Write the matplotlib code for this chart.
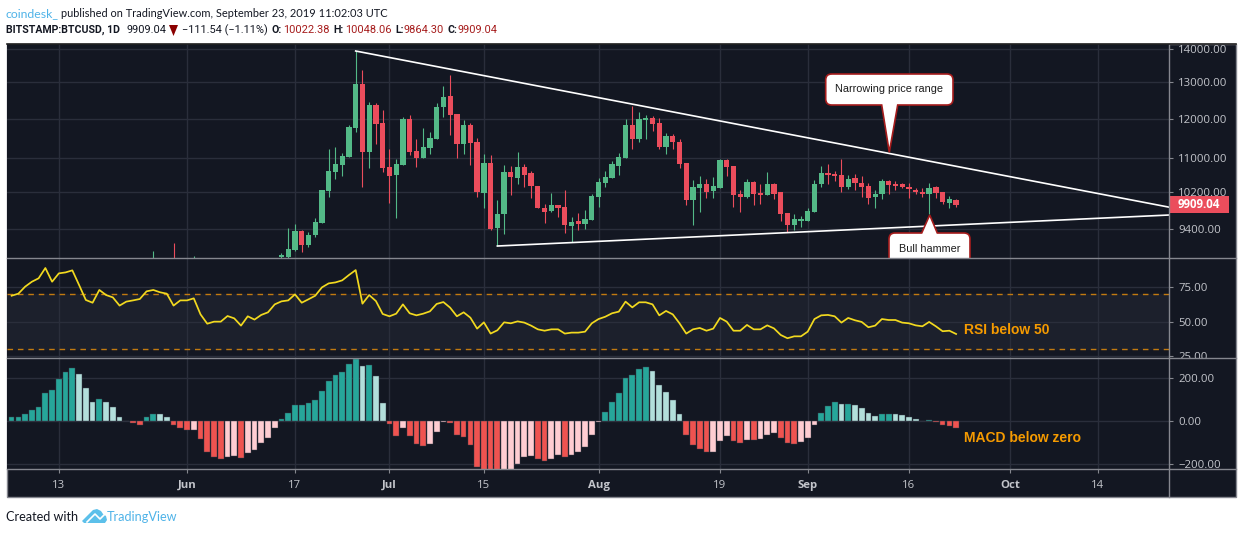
import matplotlib
matplotlib.use('Agg')
import matplotlib.pyplot as plt
import matplotlib.dates as mdates
import pandas as pd
from matplotlib.lines import Line2D
from matplotlib.patches import PathPatch, Polygon, Rectangle
from matplotlib.path import Path
from matplotlib.transforms import Affine2D, Bbox

W, H = 1242, 534

# daily candles, 15 Jun - 23 Sep 2019
candle_dates = pd.date_range('2019-06-15', '2019-09-23')
opens = [8830, 8845, 8975, 9355, 9070, 9270, 9530, 10220, 10660, 10830,
         11025, 11745, 12955, 11150, 12380, 11875, 10775, 10595, 10830, 11990,
         11165, 11000, 11245, 11480, 12315, 12610, 12125, 11345, 11835, 11390,
         10190, 10870, 9415, 9720, 10660, 10525, 10775, 10635, 10340, 9855,
         9775, 9905, 9865, 9465, 9565, 9505, 9585, 10085, 10400, 10515,
         10800, 10995, 11835, 11465, 11965, 12010, 11875, 11265, 11550, 11395,
         10870, 10020, 10285, 10385, 10220, 10300, 10950, 10810, 10160, 10100,
         10425, 10180, 10135, 10385, 10195, 9735, 9480, 9570, 9575, 9755,
         10385, 10635, 10625, 10590, 10310, 10515, 10400, 10335, 10085, 10160,
         10450, 10380, 10380, 10325, 10255, 10205, 10160, 10310, 10195, 9965,
         10022.38]
closes = [8870, 8990, 9355, 9075, 9285, 9540, 10240, 10680, 10850, 11040,
          11775, 12955, 11150, 12380, 11860, 10760, 10570, 10850, 11990, 11150,
          11000, 11265, 11490, 12305, 12580, 12100, 11345, 11825, 11370, 10205,
          10870, 9410, 9710, 10660, 10540, 10775, 10595, 10340, 9840, 9765,
          9905, 9840, 9485, 9540, 9500, 9605, 10115, 10425, 10540, 10850,
          11020, 11835, 11480, 11990, 12010, 11860, 11265, 11550, 11395, 10850,
          10020, 10310, 10385, 10195, 10340, 10950, 10775, 10135, 10100, 10425,
          10150, 10130, 10385, 10150, 9710, 9480, 9605, 9605, 9775, 10395,
          10635, 10595, 10565, 10310, 10495, 10400, 10310, 10075, 10165, 10450,
          10365, 10340, 10310, 10270, 10195, 10160, 10295, 10180, 9975, 10040,
          9909.04]
highs = [8920, 9415, 9500, 9370, 9335, 9625, 10250, 11215, 11265, 11115,
         11825, 13930, 13375, 12450, 12435, 12235, 11215, 10970, 12035, 12090,
         11465, 11745, 11645, 12415, 12900, 13215, 12125, 11965, 11875, 11490,
         11090, 11065, 10020, 10825, 10810, 11140, 10850, 10695, 10350, 9935,
         10190, 9915, 10250, 9650, 9735, 9805, 10150, 10515, 10690, 10935,
         11115, 11985, 12340, 12180, 12090, 12070, 12010, 11620, 11590, 11465,
         10870, 10480, 10570, 10495, 10550, 10970, 10970, 10815, 10250, 10495,
         10465, 10385, 10665, 10415, 10210, 9740, 9710, 9685, 9840, 10480,
         10810, 10855, 10695, 10970, 10595, 10610, 10565, 10400, 10250, 10495,
         10480, 10465, 10415, 10400, 10285, 10285, 10400, 10335, 10210, 10115,
         10048.06]
lows = [8750, 8780, 8960, 8930, 9040, 9230, 9520, 10100, 10500, 10570,
        11020, 11660, 10310, 10750, 11345, 10665, 9965, 9625, 10830, 11075,
        10775, 11000, 11100, 11480, 12055, 11575, 10995, 11100, 10830, 10100,
        9855, 9370, 9055, 9290, 10135, 10385, 10325, 10070, 9840, 9535,
        9750, 9660, 9315, 9135, 9370, 9395, 9585, 9880, 10325, 10515,
        10595, 10995, 11220, 11405, 11475, 11680, 11230, 11100, 11215, 10755,
        9915, 9480, 9750, 10075, 10075, 10300, 10570, 9865, 9770, 10060,
        9915, 9930, 10135, 10040, 9570, 9335, 9370, 9450, 9565, 9755,
        10325, 10385, 10450, 10210, 10270, 10250, 10085, 9930, 9855, 10040,
        10165, 10250, 10285, 10075, 10160, 10100, 9710, 10060, 9935, 9855,
        9864.30]

# older candles only poke their wick into the visible range
wick_dates = pd.to_datetime(['2019-05-27', '2019-05-30', '2019-06-02'])
wick_highs = [8952, 9109, 8856]
wick_up = [True, False, True]

# indicators, 6 May - 23 Sep 2019
ind_dates = pd.date_range('2019-05-06', '2019-09-23')
rsi = [68.9, 70.4, 75.5, 79.1, 81.6, 89.1, 79.1, 85.2, 85.9, 87.4,
       76.7, 65.8, 63.8, 73.1, 69.4, 67.7, 61.7, 64.6, 65.5, 66.5,
       72.1, 73.1, 71.4, 70.4, 61.7, 65.5, 65.5, 67.0, 55.3, 48.5,
       50.0, 50.0, 54.1, 52.4, 47.1, 53.9, 51.5, 54.9, 56.8, 62.6,
       64.8, 65.5, 69.9, 63.8, 66.3, 68.9, 75.0, 77.9, 78.6, 80.1,
       84.0, 87.6, 63.1, 69.4, 65.0, 55.6, 53.9, 55.8, 62.6, 56.1,
       54.6, 55.8, 57.5, 62.9, 64.3, 60.2, 53.9, 56.8, 52.9, 44.9,
       49.5, 41.3, 43.7, 49.5, 48.8, 50.2, 49.3, 47.1, 44.4, 43.4,
       44.4, 44.4, 41.3, 42.0, 42.0, 42.7, 48.8, 51.9, 53.6, 56.1,
       57.3, 64.6, 60.4, 64.1, 64.1, 62.6, 54.6, 57.8, 55.3, 48.8,
       41.3, 44.4, 45.4, 43.4, 44.9, 52.7, 50.0, 43.4, 43.4, 47.6,
       44.4, 44.4, 47.3, 45.1, 40.3, 37.9, 39.3, 39.3, 42.7, 51.9,
       54.6, 54.9, 53.9, 49.3, 52.7, 51.0, 49.8, 45.9, 47.1, 51.9,
       51.2, 51.2, 49.3, 48.8, 47.3, 46.6, 49.8, 46.6, 43.0, 43.4,
       41.0]
macd_hist = [18, 21, 31, 49, 65, 129, 143, 194, 226, 245,
             217, 152, 88, 100, 88, 65, 18, 0, -9, -18,
             18, 33, 32, 21, -18, -32, -42, -41, -83, -143,
             -165, -174, -165, -162, -171, -148, -134, -102, -78, -32,
             9, 37, 74, 75, 83, 97, 138, 185, 212, 226,
             263, 288, 254, 258, 208, 83, -14, -69, -32, -69,
             -106, -115, -106, -51, -3, -9, -65, -74, -111, -212,
             -225, -232, -240, -232, -225, -200, -166, -162, -175, -185,
             -175, -157, -166, -157, -143, -120, -65, -5, 42, 88,
             129, 198, 212, 240, 249, 231, 166, 134, 97, 32,
             -65, -111, -129, -144, -142, -92, -69, -92, -102, -87,
             -89, -83, -65, -55, -78, -102, -106, -97, -78, -18,
             37, 69, 88, 78, 79, 74, 60, 37, 23, 32,
             33, 32, 28, 20, 9, 1, 3, -5, -18, -23,
             -32]

price_ticks = [9400, 10200, 11000, 12000, 13000, 14000]
price_labels = ['9400.00', '10200.00', '11000.00', '12000.00', '13000.00', '14000.00']
rsi_ticks = [25, 50, 75]
rsi_labels = ['25.00', '50.00', '75.00']
macd_ticks = [-200, 0, 200]
macd_labels = ['\u2212200.00', '0.00', '200.00']
date_ticks = pd.to_datetime(['2019-05-13', '2019-06-01', '2019-06-17', '2019-07-01', '2019-07-15',
                             '2019-08-01', '2019-08-19', '2019-09-01', '2019-09-16', '2019-10-01',
                             '2019-10-14'])
date_labels = ['13', 'Jun', '17', 'Jul', '15', 'Aug', '19', 'Sep', '16', 'Oct', '14']

# trend lines: (date, price) at both ends
upper_line_dates = ['2019-06-26 00:00', '2019-10-24 14:00']
upper_line_prices = [13938, 9865]
lower_line_dates = ['2019-07-17 00:00', '2019-10-24 14:00']
lower_line_prices = [9053, 9696]

BG = '#131722'
GRID = '#2a2e3b'
EDGE = '#85878f'
TICKTXT = '#c3c5cb'
UP = '#53b987'
DOWN = '#eb4d5c'
FONT = 'Open Sans'
HEAD = 'Lato'
QUOTE = 'Roboto'

fig = plt.figure(figsize=(W / 100, H / 100), dpi=100, facecolor='white')
px = Affine2D().scale(1 / W, -1 / H).translate(0, 1) + fig.transFigure


def panel(top, bottom):
    left, right = 6.7, 1169.3
    ax = fig.add_axes([left / W, 1 - bottom / H, (right - left) / W, (bottom - top) / H])
    ax.set_facecolor(BG)
    for s in ax.spines.values():
        s.set_visible(False)
    ax.set_xlim(base - 26.73, base + 145.6)
    ax.xaxis_date()
    ax.set_xticks(mdates.date2num(date_ticks))
    ax.grid(True, color=GRID, lw=1.0)
    ax.set_axisbelow(True)
    ax.yaxis.tick_right()
    ax.tick_params(axis='y', length=3, width=0.8, color=EDGE, pad=3.4, labelsize=8.2, labelcolor=TICKTXT)
    ax.tick_params(axis='x', length=0, labelbottom=False)
    return ax


def set_yticks(ax, ticks, labels):
    ax.set_yticks(ticks)
    ax.set_yticklabels(labels, fontfamily=FONT)
    ax.minorticks_off()


def callout(ax, left, top, right, bottom, tip, base0, base1, r=6):
    # rounded box with a pointed tail on its bottom or top edge, in pixels
    tail_down = tip[1] > bottom
    v = [(left + r, top)]
    c = [Path.MOVETO]
    if not tail_down:
        v += [(base0, top), tip, (base1, top)]
        c += [Path.LINETO] * 3
    v += [(right - r, top), (right, top), (right, top + r), (right, bottom - r), (right, bottom), (right - r, bottom)]
    c += [Path.LINETO, Path.CURVE3, Path.CURVE3, Path.LINETO, Path.CURVE3, Path.CURVE3]
    if tail_down:
        v += [(base1, bottom), tip, (base0, bottom)]
        c += [Path.LINETO] * 3
    v += [(left + r, bottom), (left, bottom), (left, bottom - r), (left, top + r), (left, top), (left + r, top)]
    c += [Path.LINETO, Path.CURVE3, Path.CURVE3, Path.LINETO, Path.CURVE3, Path.CURVE3]
    ax.add_patch(PathPatch(Path(v, c), fc='white', ec='#a51c1c', lw=1.2, transform=px, zorder=6))


def label(x, y, s, **kw):
    kw.setdefault('va', 'center')
    kw.setdefault('ha', 'left')
    fig.text(x / W, 1 - y / H, s, **kw)


base = mdates.date2num(pd.Timestamp('2019-06-01'))

# chart frame
fig.add_artist(Rectangle((6.7, 43.5), 1229, 453.5, transform=px, fc=BG, ec=EDGE, lw=1.0, zorder=-1))

ax_p = panel(44, 258)
ax_r = panel(258, 358)
ax_m = panel(358, 469)

# price
ax_p.set_yscale('log')
ax_p.set_ylim(8816, 14156)
set_yticks(ax_p, price_ticks, price_labels)
ax_p.vlines(wick_dates, 8700, wick_highs, colors=[UP if u else DOWN for u in wick_up], lw=0.8)
colors = [UP if c >= o else DOWN for o, c in zip(opens, closes)]
ax_p.vlines(candle_dates, lows, highs, colors=colors, lw=0.8, zorder=3)
ax_p.bar(candle_dates, [abs(c - o) for o, c in zip(opens, closes)],
         bottom=[min(o, c) for o, c in zip(opens, closes)], width=0.78, color=colors, zorder=4)
ax_p.plot(pd.to_datetime(upper_line_dates), upper_line_prices, color='white', lw=1.2, zorder=5)
ax_p.plot(pd.to_datetime(lower_line_dates), lower_line_prices, color='white', lw=1.2, zorder=5)
ax_p.set_xlim(base - 26.73, base + 145.6)

callout(ax_p, 825.7, 74, 953, 105, (889.3, 152.3), 881.7, 897.7)
callout(ax_p, 889, 233, 970, 275, (929.7, 215), 921.7, 937.3)
ax_p.text(889.3, 89, 'Narrowing price range', transform=px, ha='center', va='center', fontsize=7.8,
          family='Liberation Sans', color='#1c1c1c', zorder=7)
ax_p.text(930, 248.5, 'Bull hammer', transform=px, ha='center', va='center', fontsize=7.8,
          family='Liberation Sans', color='#1c1c1c', zorder=7)

# rsi
ax_r.set_ylim(23.5, 96.4)
set_yticks(ax_r, rsi_ticks, rsi_labels)
ax_r.axhspan(30, 70, color='#1c202c', zorder=0)
for lvl in (30, 70):
    ax_r.axhline(lvl, color='#c27a10', lw=1.0, dashes=(4, 3.5), zorder=2)
ax_r.plot(ind_dates, rsi, color='#f2d91f', lw=1.25, zorder=3)
for t in ax_r.get_yticklabels():
    t.set_clip_on(True)
    t.set_clip_box(Bbox([[1169 / W, 1 - 358 / H], [1235 / W, 1 - 258 / H]]).transformed(fig.transFigure))

# macd histogram, shade follows the direction of the bars
hist_colors = []
for i, v in enumerate(macd_hist):
    prev = macd_hist[i - 1] if i else 0
    if v >= 0:
        hist_colors.append('#26a69a' if v > prev else '#b2dfdb')
    else:
        hist_colors.append('#ef5350' if v < prev else '#ffcdd2')
ax_m.set_ylim(-221, 291)
set_yticks(ax_m, macd_ticks, macd_labels)
ax_m.bar(ind_dates, macd_hist, width=0.85, color=hist_colors, edgecolor='#3a3f4a', lw=0.3, zorder=3)
ax_m.tick_params(axis='x', length=3, width=0.8, color=EDGE, labelbottom=True, pad=4.7, labelsize=8.2,
                 labelcolor=TICKTXT)
ax_m.set_xticklabels(date_labels, fontfamily=FONT)
for t, s in zip(ax_m.get_xticklabels(), date_labels):
    if s.isalpha():
        t.set_fontweight('bold')

# panel separators and price axis line
for y in (258, 358, 469):
    fig.add_artist(Line2D([6.7, 1235.7], [y, y], transform=px, color=EDGE, lw=1.0))
fig.add_artist(Line2D([1169.3, 1169.3], [43.5, 497], transform=px, color=EDGE, lw=1.0))
fig.add_artist(Line2D([6.7, 1235.7], [43.5, 43.5], transform=px, color='#222222', lw=1.2))

# last price tag
fig.add_artist(Rectangle((1169.5, 195.7), 59.5, 17.3, transform=px, fc=DOWN, ec='none'))
label(1178, 204.5, '9909.04', color='white', fontsize=8.3, fontweight='bold', family=FONT)

ORANGE = '#f59a00'
label(964, 330, 'RSI below 50', color=ORANGE, fontsize=10, fontweight='bold', family='Liberation Sans')
label(964, 438.5, 'MACD below zero', color=ORANGE, fontsize=10, fontweight='bold', family='Liberation Sans')

# header lines
DK = '#131722'
RED = '#a61c1c'
label(5.7, 13.5, 'coindesk_', color='#4fb3e8', fontsize=8.8, family=HEAD)
label(60.7, 13.5, 'published on TradingView.com, September 23, 2019 11:02:03 UTC', color=DK, fontsize=7.9, family=HEAD)
label(5.7, 30, 'BITSTAMP:BTCUSD, 1D', color=DK, fontsize=7.6, fontweight='bold', family=QUOTE)
label(126.7, 30, '9909.04', color=DK, fontsize=7.9, family=QUOTE)
fig.add_artist(Polygon([(169, 25), (178, 25), (173.5, 36)], transform=px, fc='#8b0000', ec='none'))
label(181.7, 30, '\u2212111.54 (\u22121.11%)', color=DK, fontsize=7.9, family=QUOTE)
for x0, key, x1, val in [(272, 'O:', 283, '10022.38'), (333, 'H:', 345, '10048.06'),
                         (395, 'L:', 404, '9864.30'), (448, 'C:', 458, '9909.04')]:
    label(x0, 30, key, color=DK, fontsize=7.6, fontweight='bold', family=QUOTE)
    label(x1, 30, val, color=RED, fontsize=7.9, family=QUOTE)

# footer
label(6, 517, 'Created with', color='#131722', fontsize=9.1, family=HEAD)
logo = [(82, 521), (90, 513), (93, 510), (97, 509), (101, 511), (103, 514), (106, 516), (107, 520), (105, 523), (84, 523)]
fig.add_artist(Polygon(logo, transform=px, fc='#5cc0ea', ec='none'))
fig.add_artist(Line2D([87, 95, 100, 107], [522, 514, 519, 512], transform=px, color='white', lw=1.2))
label(106.5, 517, 'TradingView', color='#4fb3e8', fontsize=9.1, family=HEAD)

fig.savefig('out.png', dpi=100)
